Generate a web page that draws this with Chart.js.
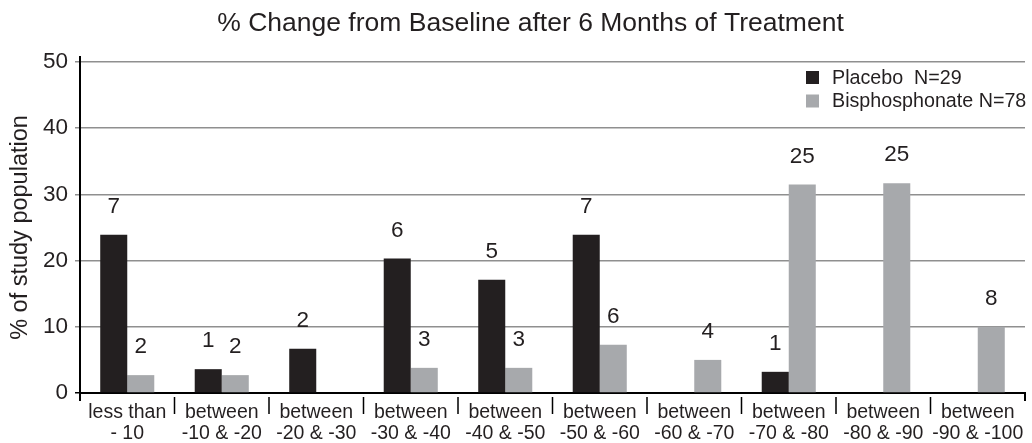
<!DOCTYPE html>
<html><head><meta charset="utf-8">
<script src="https://cdn.jsdelivr.net/npm/chart.js@4/dist/chart.umd.min.js"></script>
<style>html,body{margin:0;padding:0;background:#fff;}#wrap{width:1032px;height:443px;}</style>
</head><body><div id="wrap"><canvas id="c" width="1032" height="443"></canvas></div>
<script>
const categories = [
  ["less than", "- 10"],
  ["between", "-10 & -20"],
  ["between", "-20 & -30"],
  ["between", "-30 & -40"],
  ["between", "-40 & -50"],
  ["between", "-50 & -60"],
  ["between", "-60 & -70"],
  ["between", "-70 & -80"],
  ["between", "-80 & -90"],
  ["between", "-90 & -100"]
];
const placeboValues = [23.9, 3.6, 6.7, 20.3, 17.1, 23.9, 0, 3.2, 0, 0];
const bisphosValues = [2.7, 2.7, 0, 3.8, 3.8, 7.3, 5.0, 31.5, 31.7, 10.0];
const placeboCounts = [7, 1, 2, 6, 5, 7, null, 1, null, null];
const bisphosCounts = [2, 2, null, 3, 3, 6, 4, 25, 25, 8];
const yTickValues = [0, 10, 20, 30, 40, 50];
const seriesNames = ["Placebo  N=29", "Bisphosphonate N=78"];
const titleText = "% Change from Baseline after 6 Months of Treatment";
const yTitleText = "% of study population";

const FONT = "'Liberation Sans', Arial, Helvetica, sans-serif";
const TXT = '#231f20';
const C_PLA = '#231f20';
const C_BIS = '#a7a9ac';

const titlePlugin = {
  id: 'mainTitle',
  afterDraw(chart) {
    const ctx = chart.ctx;
    ctx.save();
    ctx.font = '26.5px ' + FONT;
    ctx.fillStyle = TXT;
    ctx.textAlign = 'center';
    ctx.textBaseline = 'alphabetic';
    ctx.fillText(titleText, 530.5, 31);
    ctx.restore();
  }
};

const countPlugin = {
  id: 'counts',
  afterDatasetsDraw(chart) {
    const ctx = chart.ctx;
    const counts = [placeboCounts, bisphosCounts];
    ctx.save();
    ctx.font = '22.5px ' + FONT;
    ctx.fillStyle = TXT;
    ctx.textAlign = 'center';
    ctx.textBaseline = 'middle';
    chart.data.datasets.forEach((ds, di) => {
      const meta = chart.getDatasetMeta(di);
      meta.data.forEach((el, i) => {
        const n = counts[di][i];
        if (n === null || n === undefined) return;
        ctx.fillText(String(n), el.x, el.y - 28);
      });
    });
    ctx.restore();
  }
};

const legendPlugin = {
  id: 'customLegend',
  afterDraw(chart) {
    const ctx = chart.ctx;
    ctx.save();
    ctx.font = '19.7px ' + FONT;
    ctx.textAlign = 'left';
    ctx.textBaseline = 'alphabetic';
    chart.data.datasets.forEach((ds, i) => {
      const y = 71 + i * 23.5;
      ctx.fillStyle = ds.backgroundColor;
      ctx.fillRect(806, y, 13, 13);
      ctx.fillStyle = TXT;
      ctx.fillText(ds.label, 832, y + 12.5);
    });
    ctx.restore();
  }
};

const sepPlugin = {
  id: 'separators',
  afterDraw(chart) {
    const ctx = chart.ctx;
    const xs = chart.scales.x;
    const a = chart.chartArea;
    ctx.save();
    ctx.strokeStyle = '#000';
    ctx.lineWidth = 1.5;
    ctx.beginPath();
    for (let i = 1; i < categories.length; i++) {
      const bx = (xs.getPixelForValue(i - 1) + xs.getPixelForValue(i)) / 2;
      ctx.moveTo(bx, a.bottom + 4);
      ctx.lineTo(bx, a.bottom + 21);
    }
    ctx.stroke();
    ctx.lineWidth = 2;
    ctx.beginPath();
    ctx.moveTo(a.left, a.bottom);
    ctx.lineTo(a.left, a.bottom + 8);
    ctx.moveTo(a.left, a.top);
    ctx.lineTo(a.left, a.top - 6);
    ctx.moveTo(a.right, a.bottom);
    ctx.lineTo(a.right, a.bottom + 8);
    ctx.stroke();
    ctx.restore();
  }
};

new Chart(document.getElementById('c'), {
  type: 'bar',
  data: {
    labels: categories,
    datasets: [
      { label: seriesNames[0], data: placeboValues, backgroundColor: C_PLA, borderWidth: 0 },
      { label: seriesNames[1], data: bisphosValues, backgroundColor: C_BIS, borderWidth: 0 }
    ]
  },
  options: {
    responsive: false,
    animation: false,
    devicePixelRatio: 1,
    categoryPercentage: 0.572,
    barPercentage: 1.0,
    layout: { padding: { left: 0, right: 7, top: 62, bottom: 0 } },
    plugins: { legend: { display: false }, title: { display: false }, tooltip: { enabled: false } },
    scales: {
      x: {
        grid: { display: false },
        border: { display: true, color: '#000', width: 2 },
        ticks: {
          font: { family: FONT, size: 19.5, lineHeight: 21 / 19.5 },
          color: TXT, padding: 1, maxRotation: 0, minRotation: 0, autoSkip: false
        },
        afterFit(s) { s.height = 50; }
      },
      y: {
        min: 0, max: 50,
        afterBuildTicks(s) { s.ticks = yTickValues.map(v => ({ value: v })); },
        ticks: { font: { family: FONT, size: 22.5 }, color: TXT, padding: 7 },
        grid: {
          color: c => (c.tick && c.tick.value === 0) ? '#000' : '#8f8f8f',
          lineWidth: 1.5, tickLength: 5, drawTicks: true
        },
        border: { display: true, color: '#000', width: 2 },
        title: { display: true, text: yTitleText, font: { family: FONT, size: 23.5 }, color: TXT, padding: { top: 6, bottom: 0 } },
        afterFit(s) { s.width = 80; }
      }
    }
  },
  plugins: [titlePlugin, countPlugin, legendPlugin, sepPlugin]
});
</script>
</body></html>
